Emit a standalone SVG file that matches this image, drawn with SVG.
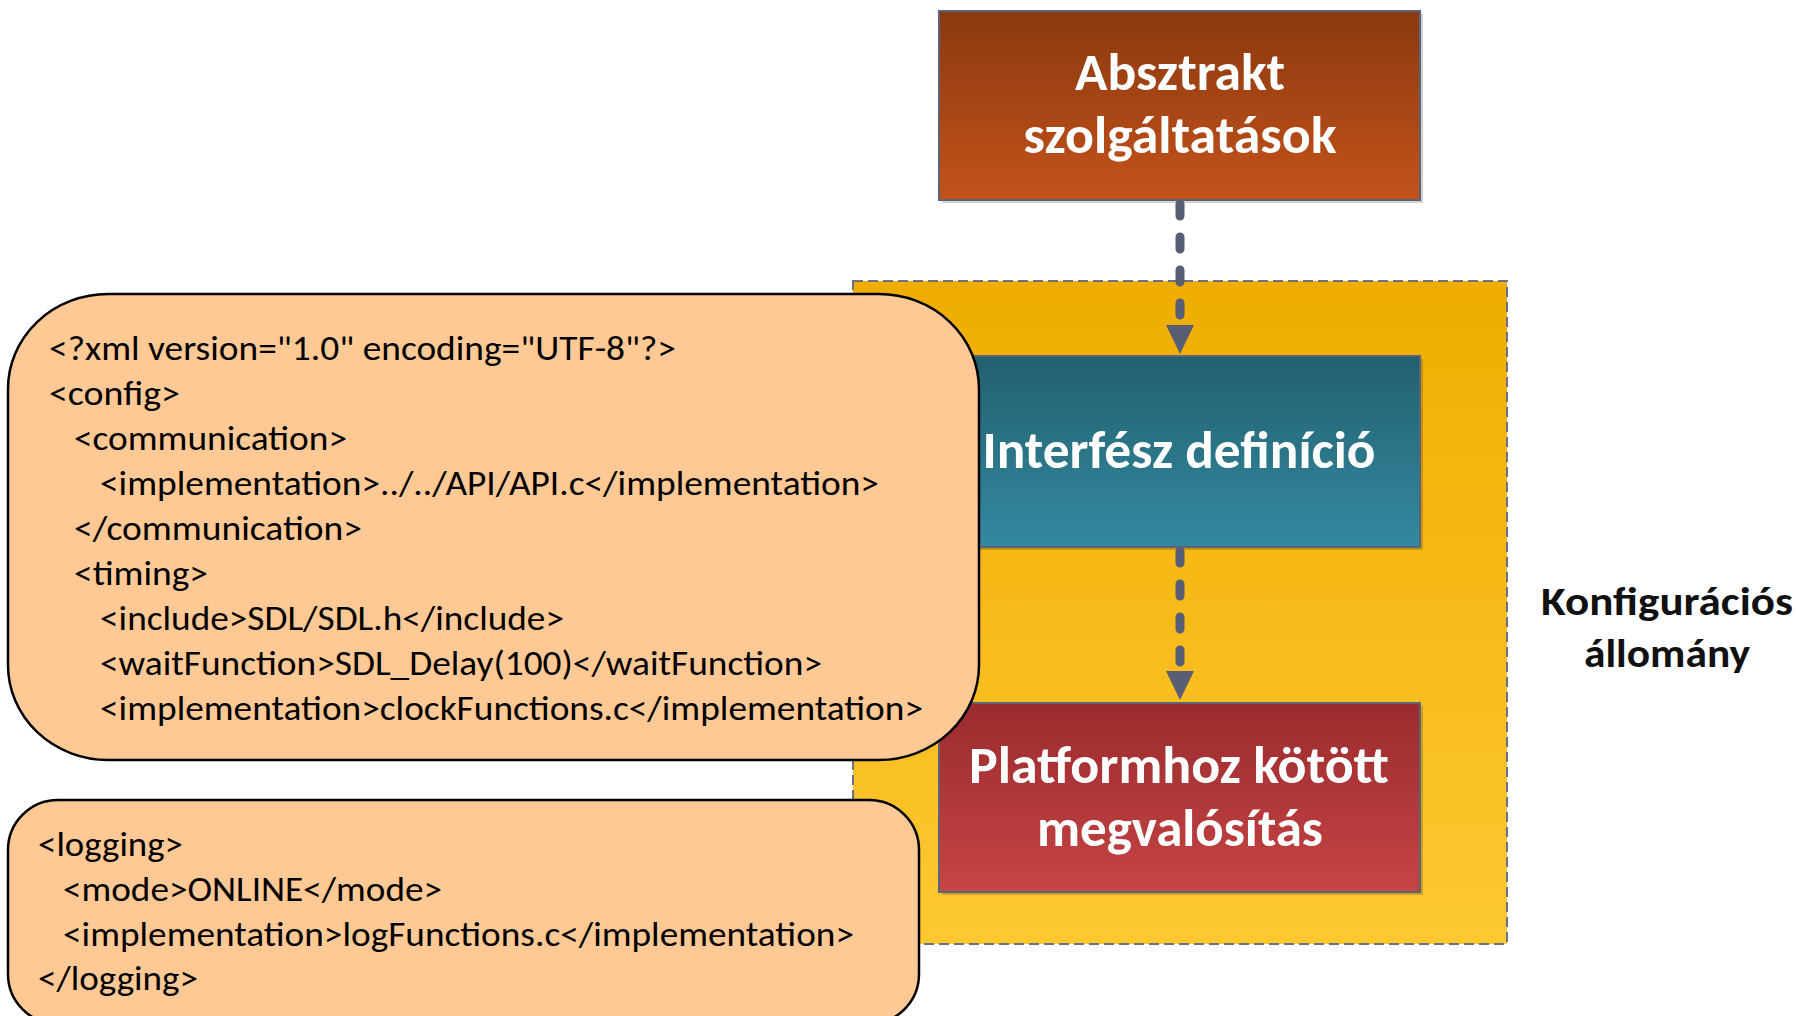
<svg xmlns="http://www.w3.org/2000/svg" width="1796" height="1016" viewBox="0 0 1796 1016">
<style>
.code{font-family:Carlito,Lato,"Liberation Sans",sans-serif;font-size:34px;fill:#000}
.btxt{font-family:Carlito,Lato,"Open Sans",sans-serif;font-weight:bold;font-size:52px;fill:#fff;text-anchor:middle}
.lbl{font-family:Carlito,Lato,"Open Sans",sans-serif;font-weight:bold;font-size:41px;fill:#111;text-anchor:middle}
.box{stroke:#5b6378;stroke-width:2}
.shadow{fill:#000;opacity:0.18}
.call{fill:#fec995;stroke:#000;stroke-width:2.5}
.conn{stroke:#575e75;stroke-width:9;stroke-linecap:round;stroke-dasharray:12 21;fill:none}
</style>
<defs>
<linearGradient id="gBrown" x1="0" y1="0" x2="0" y2="1"><stop offset="0" stop-color="#8a3910"/><stop offset="1" stop-color="#c4521a"/></linearGradient>
<linearGradient id="gTeal" x1="0" y1="0" x2="0" y2="1"><stop offset="0" stop-color="#22606f"/><stop offset="1" stop-color="#3489a0"/></linearGradient>
<linearGradient id="gRed" x1="0" y1="0" x2="0" y2="1"><stop offset="0" stop-color="#9a2b2e"/><stop offset="1" stop-color="#c64444"/></linearGradient>
<linearGradient id="gYel" x1="0" y1="0" x2="0" y2="1"><stop offset="0" stop-color="#efad00"/><stop offset="1" stop-color="#fec832"/></linearGradient>
</defs>
<rect width="1796" height="1016" fill="#fff"/>

<g id="config-file">
<rect x="853" y="281" width="654" height="663" fill="url(#gYel)" stroke="#6b7182" stroke-width="2" stroke-dasharray="10 5"/>
</g>

<g id="abstract-services">
<rect class="shadow" x="942" y="14" width="481" height="189"/>
<rect class="box" x="939" y="11" width="481" height="189" fill="url(#gBrown)"/>
<text class="btxt" x="1180" y="90" textLength="210" lengthAdjust="spacingAndGlyphs">Absztrakt</text>
<text class="btxt" x="1180" y="153" textLength="313" lengthAdjust="spacingAndGlyphs">szolgáltatások</text>
</g>

<g id="interface-def">
<rect class="shadow" x="942" y="359" width="481" height="191"/>
<rect class="box" x="939" y="356" width="481" height="191" fill="url(#gTeal)"/>
<text class="btxt" x="1179" y="468" textLength="393" lengthAdjust="spacingAndGlyphs">Interfész definíció</text>
</g>

<g id="platform-impl">
<rect class="shadow" x="942" y="706" width="481" height="189"/>
<rect class="box" x="939" y="703" width="481" height="189" fill="url(#gRed)"/>
<text class="btxt" x="1179" y="783" textLength="420" lengthAdjust="spacingAndGlyphs">Platformhoz kötött</text>
<text class="btxt" x="1180" y="846" textLength="286" lengthAdjust="spacingAndGlyphs">megvalósítás</text>
</g>

<g id="connectors">
<line class="conn" x1="1180" y1="204" x2="1180" y2="322"/>
<path d="M1166,325 L1194,325 L1180,354 z" fill="#575e75"/>
<line class="conn" x1="1180" y1="551" x2="1180" y2="668"/>
<path d="M1166,671 L1194,671 L1180,700 z" fill="#575e75"/>
</g>

<g id="config-label">
<text class="lbl" x="1667" y="615" textLength="252" lengthAdjust="spacingAndGlyphs">Konfigurációs</text>
<text class="lbl" x="1667" y="667" textLength="166" lengthAdjust="spacingAndGlyphs">állomány</text>
</g>

<g id="xml-config">
<rect class="call" x="8" y="294" width="971" height="466" rx="100" ry="95"/>
<text class="code" x="49" y="360" textLength="627" lengthAdjust="spacingAndGlyphs">&lt;?xml version="1.0" encoding="UTF-8"?&gt;</text>
<text class="code" x="49" y="405" textLength="131" lengthAdjust="spacingAndGlyphs">&lt;config&gt;</text>
<text class="code" x="74" y="450" textLength="273" lengthAdjust="spacingAndGlyphs">&lt;communication&gt;</text>
<text class="code" x="100" y="495" textLength="779" lengthAdjust="spacingAndGlyphs">&lt;implementation&gt;../../API/API.c&lt;/implementation&gt;</text>
<text class="code" x="74" y="540" textLength="288" lengthAdjust="spacingAndGlyphs">&lt;/communication&gt;</text>
<text class="code" x="74" y="585" textLength="134" lengthAdjust="spacingAndGlyphs">&lt;timing&gt;</text>
<text class="code" x="100" y="630" textLength="464" lengthAdjust="spacingAndGlyphs">&lt;include&gt;SDL/SDL.h&lt;/include&gt;</text>
<text class="code" x="100" y="675" textLength="722" lengthAdjust="spacingAndGlyphs">&lt;waitFunction&gt;SDL_Delay(100)&lt;/waitFunction&gt;</text>
<text class="code" x="100" y="720" textLength="823" lengthAdjust="spacingAndGlyphs">&lt;implementation&gt;clockFunctions.c&lt;/implementation&gt;</text>
</g>

<g id="xml-logging">
<rect class="call" x="8" y="800" width="911" height="224" rx="50" ry="50"/>
<text class="code" x="38" y="856" textLength="145" lengthAdjust="spacingAndGlyphs">&lt;logging&gt;</text>
<text class="code" x="63" y="901" textLength="379" lengthAdjust="spacingAndGlyphs">&lt;mode&gt;ONLINE&lt;/mode&gt;</text>
<text class="code" x="63" y="946" textLength="791" lengthAdjust="spacingAndGlyphs">&lt;implementation&gt;logFunctions.c&lt;/implementation&gt;</text>
<text class="code" x="38" y="990" textLength="160" lengthAdjust="spacingAndGlyphs">&lt;/logging&gt;</text>
</g>
</svg>
